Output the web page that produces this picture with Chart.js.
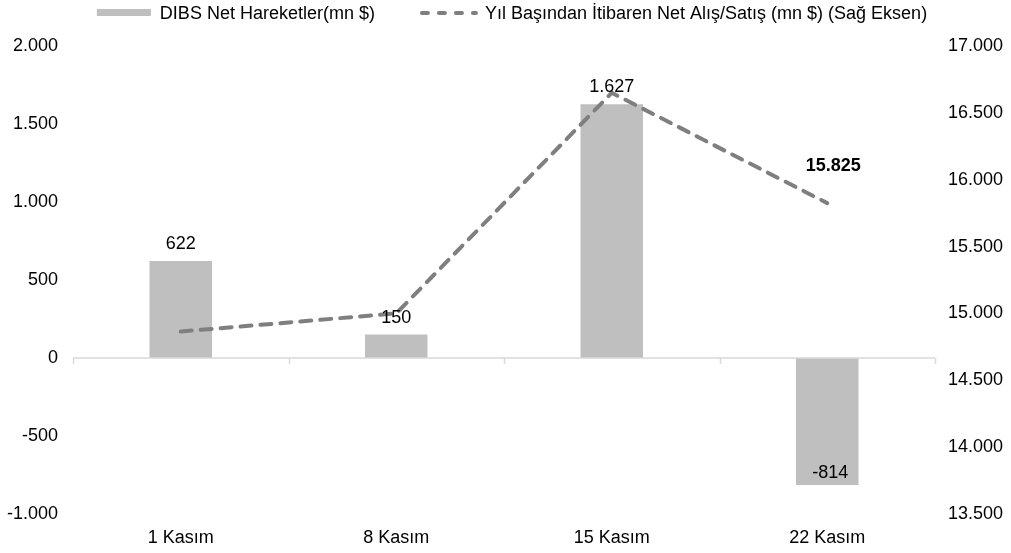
<!DOCTYPE html>
<html lang="tr">
<head>
<meta charset="UTF-8">
<title>DIBS Net Hareketler</title>
<script src="https://cdn.jsdelivr.net/npm/chart.js"></script>
<style>
  html, body { margin: 0; padding: 0; background: #fff; }
</style>
</head>
<body>
<canvas id="dibsChart" width="1011" height="553"></canvas>

<script>
    // Values
    const weeks = ['1 Kasım', '8 Kasım', '15 Kasım', '22 Kasım'];
    const netMoves = [622, 150, 1627, -814];          // DIBS Net Hareketler (mn $), left axis
    const ytdNet = [14865, 15000, 16650, 15825];      // Yıl başından itibaren net (mn $), right axis
    const leftTicks = [-1000, -500, 0, 500, 1000, 1500, 2000];
    const rightTicks = [13500, 14000, 14500, 15000, 15500, 16000, 16500, 17000];

    const barLabel = 'DIBS Net Hareketler(mn $)';
    const lineLabel = 'Yıl Başından İtibaren Net Alış/Satış (mn $) (Sağ Eksen)';

    const FONT = '"Liberation Sans", Arial, sans-serif';
    const barColor = '#bfbfbf';
    const lineColor = '#7f7f7f';

    // 1627 -> "1.627"
    function fmt(v) {
        return String(v).replace(/\B(?=(\d{3})+(?!\d))/g, '.');
    }

    // zero line, tick marks, value labels and the legend
    const decorations = {
        id: 'decorations',
        afterDatasetsDraw(chart) {
            const ctx = chart.ctx;
            const area = chart.chartArea;
            const x = chart.scales.x;
            const y0 = chart.scales.y.getPixelForValue(0);

            ctx.save();
            ctx.strokeStyle = '#d9d9d9';
            ctx.lineWidth = 1.5;
            ctx.beginPath();
            ctx.moveTo(area.left, y0);
            ctx.lineTo(area.right, y0);
            for (let i = 0; i <= weeks.length; i++) {
                const px = Math.round(x.getPixelForValue(i - 0.5)) + 0.5;
                ctx.moveTo(px, y0);
                ctx.lineTo(px, y0 + 6);
            }
            ctx.stroke();

            // bar labels
            ctx.fillStyle = '#000';
            ctx.textAlign = 'center';
            ctx.textBaseline = 'alphabetic';
            ctx.font = '18px ' + FONT;
            chart.getDatasetMeta(0).data.forEach((bar, i) => {
                const v = netMoves[i];
                if (v >= 0) {
                    ctx.fillText(fmt(v), bar.x, bar.y - 12);
                } else {
                    ctx.fillText(fmt(v), bar.x + 3, bar.y - 7);
                }
            });

            // only the last point of the line is labelled
            const pts = chart.getDatasetMeta(1).data;
            const last = pts.length - 1;
            ctx.font = 'bold 18px ' + FONT;
            ctx.fillText(fmt(ytdNet[last]), pts[last].x + 6, pts[last].y - 32);
            ctx.restore();
        },
        afterDraw(chart) {
            const ctx = chart.ctx;
            ctx.save();
            ctx.font = '18px ' + FONT;
            const w1 = ctx.measureText(barLabel).width;
            const w2 = ctx.measureText(lineLabel).width;
            const total = 54 + 9 + w1 + 45 + 58 + 7 + w2;
            let lx = 512 - total / 2;

            ctx.fillStyle = barColor;
            ctx.fillRect(lx, 9, 54, 7);
            lx += 63;
            ctx.fillStyle = '#000';
            ctx.textBaseline = 'alphabetic';
            ctx.fillText(barLabel, lx, 19);
            lx += w1 + 45;

            ctx.strokeStyle = lineColor;
            ctx.lineWidth = 4;
            ctx.lineCap = 'round';
            ctx.setLineDash([6, 11]);
            ctx.beginPath();
            ctx.moveTo(lx + 2, 13);
            ctx.lineTo(lx + 56, 13);
            ctx.stroke();
            ctx.setLineDash([]);
            lx += 65;
            ctx.fillText(lineLabel, lx, 19);
            ctx.restore();
        }
    };

    const ctx = document.getElementById('dibsChart').getContext('2d');
    const dibsChart = new Chart(ctx, {
        type: 'bar',
        data: {
            labels: weeks,
            datasets: [
                {
                    type: 'bar',
                    label: barLabel,
                    data: netMoves,
                    backgroundColor: barColor,
                    borderWidth: 0,
                    categoryPercentage: 1,
                    barPercentage: 0.29,
                    yAxisID: 'y',
                    order: 2
                },
                {
                    type: 'line',
                    label: lineLabel,
                    data: ytdNet,
                    borderColor: lineColor,
                    borderWidth: 4,
                    borderDash: [11, 9],
                    borderCapStyle: 'round',
                    pointRadius: 0,
                    fill: false,
                    tension: 0,
                    yAxisID: 'y2',
                    order: 1
                }
            ]
        },
        options: {
            responsive: false,
            animation: false,
            devicePixelRatio: 1,
            layout: { padding: { top: 46, left: 0, right: 0, bottom: 0 } },
            plugins: {
                legend: { display: false },
                tooltip: { enabled: false }
            },
            scales: {
                x: {
                    grid: { display: false, drawTicks: false },
                    border: { display: false },
                    ticks: { color: '#000', font: { family: FONT, size: 18 }, padding: 13 },
                    afterFit: s => { s.height = 39; }
                },
                y: {
                    position: 'left',
                    min: leftTicks[0],
                    max: leftTicks[leftTicks.length - 1],
                    afterBuildTicks: s => { s.ticks = leftTicks.map(v => ({ value: v })); },
                    ticks: { color: '#000', font: { family: FONT, size: 18 }, padding: 15, callback: v => fmt(v) },
                    grid: { display: false, drawTicks: false },
                    border: { display: false },
                    afterFit: s => { s.width = 73; }
                },
                y2: {
                    position: 'right',
                    min: rightTicks[0],
                    max: rightTicks[rightTicks.length - 1],
                    afterBuildTicks: s => { s.ticks = rightTicks.map(v => ({ value: v })); },
                    ticks: { color: '#000', font: { family: FONT, size: 18 }, padding: 13, callback: v => fmt(v) },
                    grid: { display: false, drawTicks: false },
                    border: { display: false },
                    afterFit: s => { s.width = 76; }
                }
            }
        },
        plugins: [decorations]
    });
</script>
</body>
</html>
